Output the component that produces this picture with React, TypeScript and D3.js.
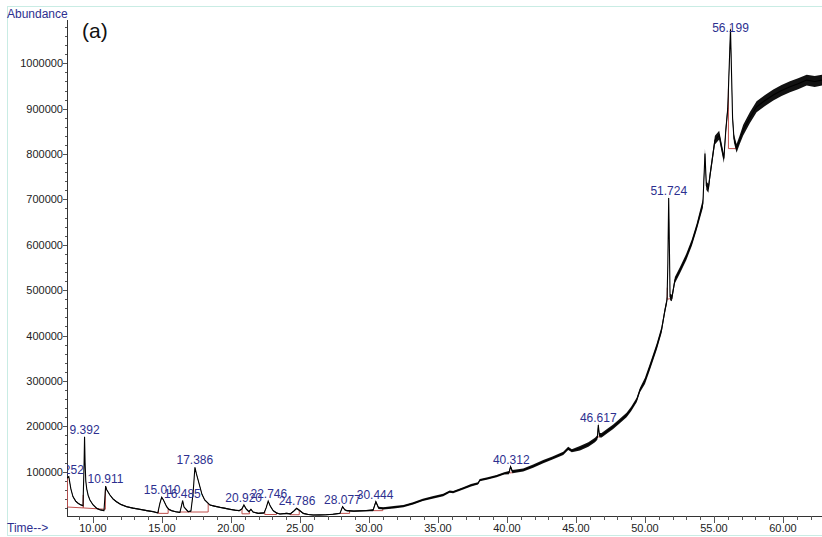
import React from "react";
import * as d3 from "d3";

// Retention time (min) and abundance
const times = [
  8.12, 8.25, 8.4, 8.55, 8.75, 8.93, 9.1, 9.28, 9.36, 9.392, 9.43, 9.48, 9.55, 9.65, 9.78, 10.0, 10.27, 10.5, 10.8, 10.86,
  10.92, 11.0, 11.23, 11.45, 11.7, 12.0, 12.44, 12.9, 13.4, 13.9, 14.37, 14.7, 14.85, 14.98, 15.1, 15.34, 15.5, 15.7, 16.0, 16.3,
  16.42, 16.5, 16.6, 16.9, 17.1, 17.25, 17.39, 17.5, 17.75, 17.9, 18.1, 18.48, 18.8, 19.2, 19.6, 19.93, 20.3, 20.6, 20.8, 20.94,
  21.1, 21.3, 21.45, 21.6, 21.98, 22.4, 22.55, 22.7, 22.85, 23.06, 23.3, 23.55, 24.03, 24.3, 24.55, 24.76, 24.95, 25.24, 25.6, 25.96,
  26.4, 26.9, 27.4, 27.9, 28.09, 28.25, 28.4, 28.9, 29.35, 29.8, 30.3, 30.5, 30.7, 31.04, 31.8, 32.5, 33.2, 33.9, 34.6, 35.38,
  35.85, 36.1, 36.83, 37.4, 37.9, 38.04, 38.6, 39.25, 39.8, 40.15, 40.26, 40.4, 41.18, 41.9, 42.63, 43.3, 44.08, 44.44, 44.7, 45.29,
  45.9, 46.38, 46.55, 46.62, 46.7, 46.86, 47.3, 47.7, 48.2, 48.67, 49.0, 49.4, 49.64, 50.0, 50.36, 50.85, 51.2, 51.45, 51.6, 51.66,
  51.72, 51.77, 51.82, 51.95, 52.17, 52.54, 53.0, 53.4, 53.75, 54.2, 54.35, 54.45, 54.6, 54.7, 55.07, 55.38, 55.5, 55.72, 55.86, 56.0,
  56.2, 56.35, 56.45, 56.64, 56.85, 57.12, 57.6, 58.09, 58.7, 59.3, 59.9, 60.51, 61.1, 61.72, 62.3, 62.83,
];
const abundance = [
  86000, 89000, 62000, 45000, 35000, 30000, 27000, 25000, 120000, 177000, 120000, 80000, 62000, 48000, 37500, 27000, 19000, 16000, 14000, 40000,
  68000, 60000, 48500, 40000, 33700, 28000, 22700, 19500, 17000, 14000, 11700, 9000, 30000, 43400, 38000, 22700, 17000, 13900, 11500, 10000,
  25000, 35900, 22000, 11700, 13000, 50000, 109500, 95000, 66800, 50000, 37500, 26400, 24000, 21300, 19000, 17000, 15000, 13900, 18000, 26400,
  18000, 11700, 17000, 11000, 8100, 9000, 20000, 35200, 24000, 13900, 9000, 6600, 8000, 7000, 13000, 19200, 15000, 8000, 5500, 4400,
  4500, 5000, 6000, 8000, 22700, 16000, 14000, 13000, 13500, 14000, 15000, 33700, 20000, 19100, 21500, 24200, 30000, 37500, 43000, 48500,
  56000, 55000, 63200, 70000, 74000, 81500, 85000, 90300, 96000, 98000, 110800, 100000, 103600, 112000, 121900, 130000, 140300, 151400, 146000, 151400,
  160000, 169700, 175000, 202700, 180000, 180000, 190000, 199000, 212000, 224800, 238000, 257800, 279900, 300000, 331200, 375300, 412100, 456100, 478200, 560000,
  703000, 600000, 485000, 482600, 522000, 544300, 573600, 605000, 639700, 691300, 801400, 730000, 724300, 750000, 830700, 841700, 823000, 790000, 852800, 900000,
  1075000, 880000, 834500, 812500, 830000, 852800, 880000, 904100, 918000, 930000, 940000, 948200, 955000, 963000, 960000, 963000,
];
// Half-width of the noise band, by time range (start time, abundance)
const noiseStart = [8, 30, 40, 45, 50, 54, 57];
const noiseHalf = [1300, 2500, 3500, 5000, 7000, 9500, 12000];

// Labelled peaks
const peakTimes = [8.252, 9.392, 10.911, 15.01, 16.485, 17.386, 20.92, 22.746, 24.786, 28.077, 30.444, 40.312, 46.617, 51.724, 56.199];
const peakLabels = ["8.252", "9.392", "10.911", "15.010", "16.485", "17.386", "20.920", "22.746", "24.786", "28.077", "30.444", "40.312", "46.617", "51.724", "56.199"];
const peakApex = [89000, 177000, 68000, 43400, 35900, 109500, 26400, 35200, 19200, 22700, 33700, 110800, 202700, 703000, 1075000];

// Integration baselines: start time, start abundance, end time, end abundance
const baseT1 = [8.15, 9.3, 14.75, 16.3, 20.8, 22.45, 24.3, 27.9, 30.3, 40.2, 46.55, 51.62, 56.05];
const baseV1 = [22000, 20000, 8000, 11000, 7000, 5500, 5000, 8000, 14000, 97000, 176000, 480000, 812000];
const baseT2 = [9.3, 10.9, 15.45, 18.35, 21.35, 23.3, 24.95, 28.6, 31.0, 40.5, 46.85, 51.95, 56.6];
const baseV2 = [20000, 17000, 8000, 11000, 7000, 5500, 5000, 8000, 14000, 98000, 178000, 482000, 812000];

const yTicks = [100000, 200000, 300000, 400000, 500000, 600000, 700000, 800000, 900000, 1000000];
const xTicks = [10, 15, 20, 25, 30, 35, 40, 45, 50, 55, 60];

const FONT = "'Liberation Sans', Arial, Helvetica, sans-serif";
const NAVY = "#2d2f8f";

export default function App() {
  const W = 822, H = 537;
  const left = 67, right = 822, axisY = 516, top = 20;
  const x = d3.scaleLinear().domain([8.12, 62.83]).range([left, right]);
  const y = d3.scaleLinear().domain([0, 1000000]).range([517, 63.3]);

  const pts = times.map((t, i) => {
    let k = 0;
    for (let j = 0; j < noiseStart.length; j++) if (t >= noiseStart[j]) k = j;
    return { t, v: abundance[i], n: noiseHalf[k] };
  });

  const area = d3.area<any>().x((d) => x(d.t)).y0((d) => y(d.v - d.n)).y1((d) => y(d.v + d.n));
  const line = d3.line<any>().x((d) => x(d.t)).y((d) => y(d.v));
  const valAt = (t: number) => {
    const i = d3.bisector((d: any) => d.t).left(pts, t);
    if (i <= 0) return pts[0].v;
    if (i >= pts.length) return pts[pts.length - 1].v;
    const a = pts[i - 1], b = pts[i];
    return a.v + ((b.v - a.v) * (t - a.t)) / (b.t - a.t);
  };

  const minorY = d3.range(20000, 1080001, 20000);
  const minorX = d3.range(9, 63, 1);

  return (
    <svg width={W} height={H} style={{ position: "absolute", left: 0, top: 0, background: "#fff" }}>
      <defs>
        <clipPath id="plot">
          <rect x={left} y={0} width={right - left} height={axisY + 1} />
        </clipPath>
      </defs>
      <rect x={7.5} y={6.5} width={830} height={529} fill="none" stroke="#c9ece4" strokeWidth={1} />
      <text x={7} y={18} fontFamily={FONT} fontSize={12} fill={NAVY}>Abundance</text>
      <text x={7} y={532} fontFamily={FONT} fontSize={12} fill={NAVY}>Time--&gt;</text>
      <text x={82} y={38} fontFamily={FONT} fontSize={21} fill="#111">(a)</text>

      {/* axes */}
      <line x1={left + 0.5} x2={left + 0.5} y1={top} y2={axisY} stroke="#333" strokeWidth={1} />
      <line x1={left} x2={right} y1={axisY + 0.5} y2={axisY + 0.5} stroke="#333" strokeWidth={1} />
      {minorY.map((v) => (
        <line key={"my" + v} x1={left - (v % 100000 === 0 ? 4 : 2)} x2={left} y1={Math.round(y(v)) + 0.5} y2={Math.round(y(v)) + 0.5} stroke="#555" strokeWidth={1} />
      ))}
      {yTicks.map((v) => (
        <text key={"yt" + v} x={63} y={y(v) + 4} textAnchor="end" fontFamily={FONT} fontSize={11} fill="#222">{v}</text>
      ))}
      {minorX.map((t) => (
        <line key={"mx" + t} x1={Math.round(x(t)) + 0.5} x2={Math.round(x(t)) + 0.5} y1={axisY} y2={axisY + (t % 5 === 0 ? 7 : 4)} stroke="#555" strokeWidth={1} />
      ))}
      {xTicks.map((t) => (
        <text key={"xt" + t} x={x(t)} y={532} textAnchor="middle" fontFamily={FONT} fontSize={11} fill="#222">{t.toFixed(2)}</text>
      ))}

      <g clipPath="url(#plot)">
        {baseT1.map((t1, i) => {
          const t2 = baseT2[i];
          const d = `M${x(t1)},${y(valAt(t1))}L${x(t1)},${y(baseV1[i])}L${x(t2)},${y(baseV2[i])}L${x(t2)},${y(valAt(t2))}`;
          return <path key={"b" + i} d={d} fill="none" stroke="#c0504d" strokeWidth={1} />;
        })}
        <path d={area(pts) || ""} fill="#111" stroke="none" />
        <path d={line(pts) || ""} fill="none" stroke="#000" strokeWidth={1.1} />
        {peakTimes.map((t, i) => (
          <text key={"p" + i} x={x(t)} y={Math.max(y(peakApex[i]) - 3, 32)} textAnchor="middle" fontFamily={FONT} fontSize={12} fill={NAVY}>
            {peakLabels[i]}
          </text>
        ))}
      </g>
    </svg>
  );
}
